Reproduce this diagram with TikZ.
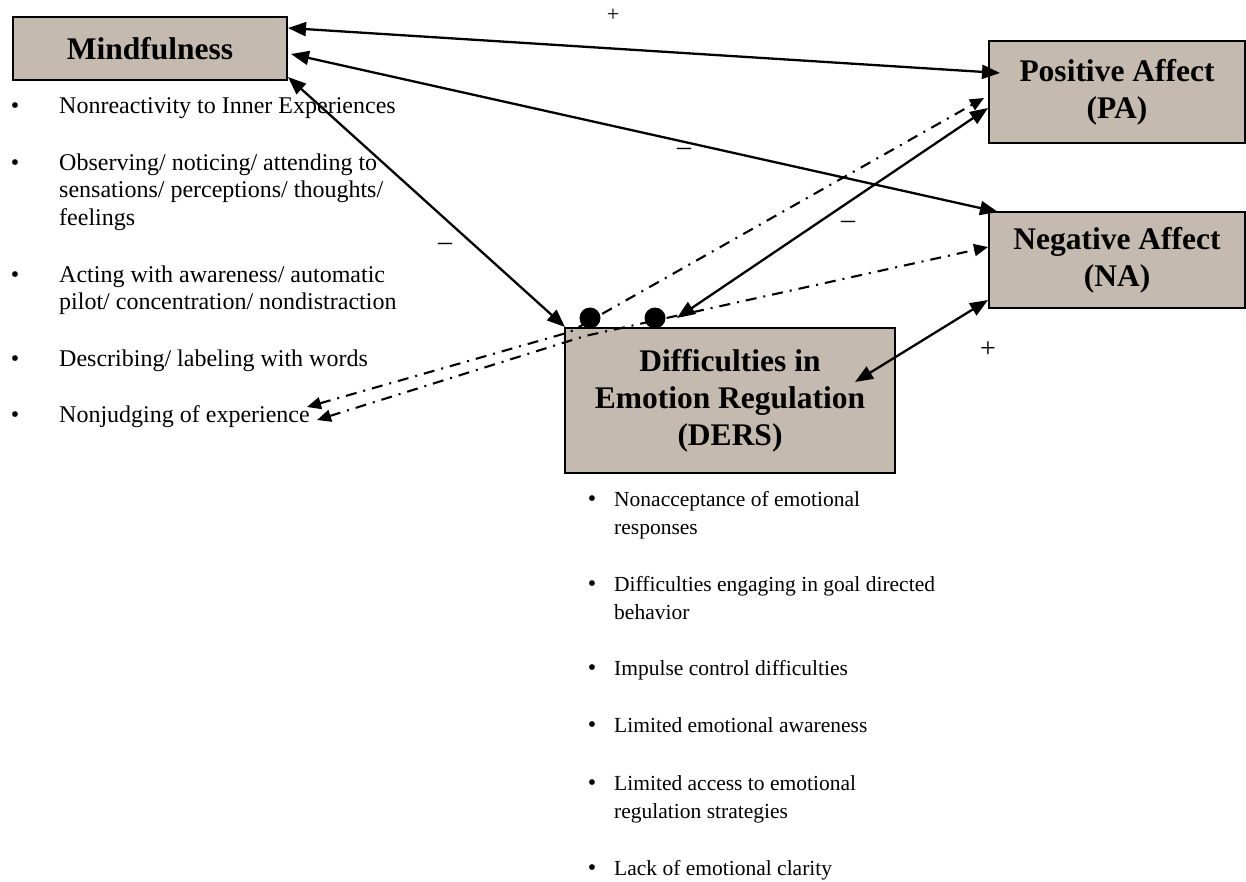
\documentclass[tikz,border=0pt]{standalone}
\usepackage{fontspec}
\setmainfont{Liberation Serif}
\usetikzlibrary{arrows.meta}
\definecolor{boxfill}{RGB}{196,186,175}
\begin{document}
\begin{tikzpicture}[x=1pt,y=-1pt,
  box/.style={draw=black, line width=1.5pt, fill=boxfill, align=center, inner sep=0pt,
    font=\fontsize{31.5}{37}\selectfont\bfseries},
  item/.style={anchor=base west, align=left, inner sep=0pt, font=\fontsize{24}{27.5}\selectfont},
  ditem/.style={anchor=base west, align=left, inner sep=0pt, font=\fontsize{21.5}{28}\selectfont},
  bul/.style={anchor=base, inner sep=0pt, font=\fontsize{24}{27.5}\selectfont},
  rel/.style={line width=2.3pt, {Triangle[length=18pt,width=14pt]}-{Triangle[length=18pt,width=14pt]}},
  modline/.style={line width=2.1pt, dash pattern=on 11pt off 7pt on 2pt off 7pt,
    {Triangle[length=14pt,width=12pt]}-{Triangle[length=14pt,width=12pt]}},
  sign/.style={inner sep=0pt, font=\fontsize{24}{24}\selectfont},
  dotmark/.style={circle, fill=black, minimum size=21pt, inner sep=0pt}]
\useasboundingbox (0,0) rectangle (1246,881);

% boxes
\node[box, minimum width=274pt, minimum height=63pt, line width=2pt] (mind) at (150,48.5) {Mindfulness};
\node[box, minimum width=256pt, minimum height=102pt] (pa) at (1117,92) {Positive Affect\\(PA)};
\node[box, minimum width=256pt, minimum height=96pt] (na) at (1117,260) {Negative Affect\\(NA)};
\node[box, minimum width=330pt, minimum height=145pt] (ders) at (730,400.5) {Difficulties in\\Emotion Regulation\\(DERS)};

% left list (node placed at baseline of its last line)
\node[bul] (b1) at (15,113) {\textbullet};
\node[item] (t1) at (59,113) {Nonreactivity to Inner Experiences};
\node[bul] (b2) at (15,170) {\textbullet};
\node[item] (t2) at (59,225) {Observing/ noticing/ attending to\\sensations/ perceptions/ thoughts/\\feelings};
\node[bul] (b3) at (15,282) {\textbullet};
\node[item] (t3) at (59,309.5) {Acting with awareness/ automatic\\pilot/ concentration/ nondistraction};
\node[bul] (b4) at (15,366) {\textbullet};
\node[item] (t4) at (59,366) {Describing/ labeling with words};
\node[bul] (b5) at (15,422) {\textbullet};
\node[item] (t5) at (59,422) {Nonjudging of experience};

% DERS list
\node[bul] (c1) at (592,506) {\textbullet};
\node[ditem] (u1) at (614,534) {Nonacceptance of emotional\\responses};
\node[bul] (c2) at (592,591) {\textbullet};
\node[ditem] (u2) at (614,619) {Difficulties engaging in goal directed\\behavior};
\node[bul] (c3) at (592,675) {\textbullet};
\node[ditem] (u3) at (614,675) {Impulse control difficulties};
\node[bul] (c4) at (592,732) {\textbullet};
\node[ditem] (u4) at (614,732) {Limited emotional awareness};
\node[bul] (c5) at (592,790) {\textbullet};
\node[ditem] (u5) at (614,818) {Limited access to emotional\\regulation strategies};
\node[bul] (c6) at (592,875) {\textbullet};
\node[ditem] (u6) at (614,875) {Lack of emotional clarity};

% endpoints
\coordinate (m1) at (288,28);
\coordinate (pa1) at (1000,73);
\coordinate (m2) at (291,54);
\coordinate (na1) at (998,212);
\coordinate (m3) at (288,77);
\coordinate (d1) at (565,327);
\coordinate (d2) at (677,318);
\coordinate (pa2) at (988,108);
\coordinate (d3) at (855,382);
\coordinate (na2) at (988,300);
\coordinate (nj1) at (307,407);
\coordinate (k1) at (570,332);
\coordinate (pa3) at (984,98);
\coordinate (nj2) at (317,420);
\coordinate (k2) at (585,336);
\coordinate (na3) at (988,247);

% solid relations
\draw[rel] (m1) -- (pa1);
\draw[rel] (m2) -- (na1);
\draw[rel] (m3) -- (d1);
\draw[rel] (d2) -- (pa2);
\draw[rel] (d3) -- (na2);

% dash-dot moderation lines
\draw[modline] (nj1) -- (k1) -- (pa3);
\draw[modline] (nj2) -- (k2) -- (na3);

% dots
\node[dotmark] (dot1) at (590,318) {};
\node[dotmark] (dot2) at (655,318) {};

% signs
\node[sign, font=\fontsize{22}{22}\selectfont] (s1) at (613,15) {+};
\node[sign, font=\fontsize{28}{28}\selectfont] (s2) at (684,152) {–};
\node[sign, font=\fontsize{28}{28}\selectfont] (s3) at (445,247) {–};
\node[sign, font=\fontsize{28}{28}\selectfont] (s4) at (848,225) {–};
\node[sign, font=\fontsize{28}{28}\selectfont] (s5) at (988,350) {+};
\end{tikzpicture}
\end{document}
